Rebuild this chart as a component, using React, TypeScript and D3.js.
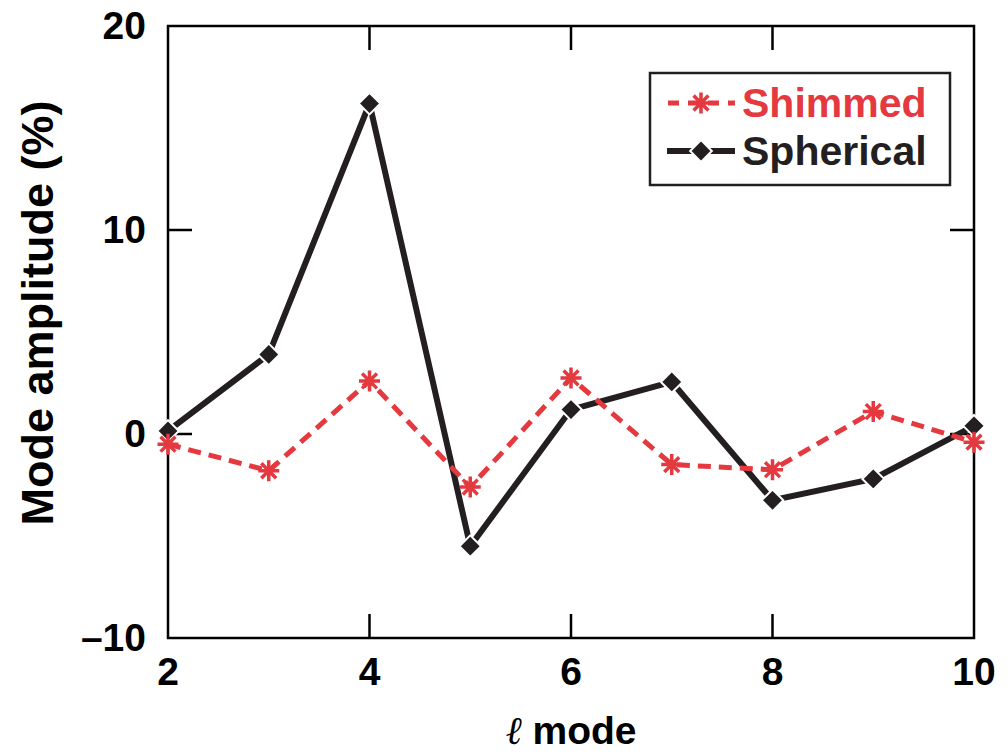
import React, { useRef, useEffect } from 'react';
import * as d3 from 'd3';

// l mode values on the x axis
const modes = [2, 3, 4, 5, 6, 7, 8, 9, 10];
// amplitudes in %
const shimmed = [-0.5, -1.8, 2.6, -2.6, 2.75, -1.5, -1.75, 1.1, -0.4];
const spherical = [0.15, 3.9, 16.2, -5.5, 1.2, 2.55, -3.25, -2.2, 0.4];
const xTicks = [2, 4, 6, 8, 10];
const yTicks = [-10, 0, 10, 20];
const seriesNames = ['Shimmed', 'Spherical'];

const RED = '#e4393f';
const BLACK = '#231f20';
const FONT = '"Liberation Sans", Arial, Helvetica, sans-serif';

function asteriskPath(r: number) {
  const d = r * Math.SQRT1_2;
  return `M0,${-r}L0,${r}M${-r},0L${r},0M${-d},${-d}L${d},${d}M${-d},${d}L${d},${-d}`;
}

function ModeChart() {
  const ref = useRef<SVGSVGElement>(null);
  const width = 1008;
  const height = 755;
  const margin = { top: 26, right: 34, bottom: 117, left: 168 };

  useEffect(() => {
    const svg = d3.select(ref.current);
    svg.selectAll('*').remove();

    const x = d3.scaleLinear().domain([2, 10]).range([margin.left, width - margin.right]);
    const y = d3.scaleLinear().domain([-10, 20]).range([height - margin.bottom, margin.top]);
    const [x0, x1] = x.range();
    const [y0, y1] = y.range();
    const tick = 24;

    // frame
    svg.append('rect')
      .attr('x', x0).attr('y', y1)
      .attr('width', x1 - x0).attr('height', y0 - y1)
      .attr('fill', 'none').attr('stroke', '#000').attr('stroke-width', 2.5);

    // inward ticks
    const inner = (v: number) => v > -10 && v < 20;
    yTicks.filter(inner).forEach((v) => {
      svg.append('line').attr('x1', x0).attr('x2', x0 + tick)
        .attr('y1', y(v)).attr('y2', y(v)).attr('stroke', '#000').attr('stroke-width', 2.5);
      svg.append('line').attr('x1', x1).attr('x2', x1 - tick)
        .attr('y1', y(v)).attr('y2', y(v)).attr('stroke', '#000').attr('stroke-width', 2.5);
    });
    xTicks.filter((v) => v > 2 && v < 10).forEach((v) => {
      svg.append('line').attr('x1', x(v)).attr('x2', x(v))
        .attr('y1', y0).attr('y2', y0 - tick).attr('stroke', '#000').attr('stroke-width', 2.5);
      svg.append('line').attr('x1', x(v)).attr('x2', x(v))
        .attr('y1', y1).attr('y2', y1 + tick).attr('stroke', '#000').attr('stroke-width', 2.5);
    });

    // tick labels
    svg.append('g').selectAll('text').data(xTicks).join('text')
      .attr('x', (d) => x(d)).attr('y', y0 + 47)
      .attr('text-anchor', 'middle')
      .attr('font-family', FONT).attr('font-weight', 'bold').attr('font-size', 39)
      .attr('fill', '#000')
      .text((d) => String(d));
    svg.append('g').selectAll('text').data(yTicks).join('text')
      .attr('x', x0 - 22).attr('y', (d) => y(d) + 13)
      .attr('text-anchor', 'end')
      .attr('font-family', FONT).attr('font-weight', 'bold').attr('font-size', 39)
      .attr('fill', '#000')
      .text((d) => (d < 0 ? '\u2013' + Math.abs(d) : String(d)));

    // axis titles
    const xt = svg.append('text')
      .attr('x', (x0 + x1) / 2).attr('y', 744)
      .attr('text-anchor', 'middle')
      .attr('font-family', FONT).attr('font-weight', 'bold').attr('font-size', 39)
      .attr('fill', '#000');
    xt.append('tspan').attr('font-family', '"DejaVu Serif", serif').attr('font-style', 'italic')
      .attr('font-weight', 'normal').text('\u2113');
    xt.append('tspan').text(' mode');

    svg.append('text')
      .attr('transform', 'translate(53,313) rotate(-90)')
      .attr('text-anchor', 'middle')
      .attr('font-family', FONT).attr('font-weight', 'bold').attr('font-size', 45)
      .attr('fill', '#000')
      .text('Mode amplitude (%)');

    const line = d3.line<number>()
      .x((_, i) => x(modes[i]))
      .y((d) => y(d));

    // Spherical line
    svg.append('path').datum(spherical).attr('d', line)
      .attr('fill', 'none').attr('stroke', BLACK).attr('stroke-width', 6)
      .attr('stroke-linejoin', 'miter');

    // Shimmed line
    svg.append('path').datum(shimmed).attr('d', line)
      .attr('fill', 'none').attr('stroke', RED).attr('stroke-width', 5)
      .attr('stroke-dasharray', '13,8');

    const diamond = d3.symbol().type(d3.symbolDiamond2).size(300)();

    svg.append('g').selectAll('path').data(spherical).join('path')
      .attr('transform', (d, i) => `translate(${x(modes[i])},${y(d)})`)
      .attr('d', diamond)
      .attr('fill', BLACK).attr('stroke', '#fff').attr('stroke-width', 2);

    svg.append('g').selectAll('path').data(shimmed).join('path')
      .attr('transform', (d, i) => `translate(${x(modes[i])},${y(d)})`)
      .attr('d', asteriskPath(10.5))
      .attr('fill', 'none').attr('stroke', RED).attr('stroke-width', 3.5);

    // legend
    const lg = svg.append('g');
    lg.append('rect').attr('x', 650).attr('y', 73).attr('width', 300).attr('height', 112)
      .attr('fill', '#fff').attr('stroke', BLACK).attr('stroke-width', 2.5);

    const rows = [103, 151];
    lg.append('line').attr('x1', 668).attr('x2', 735).attr('y1', rows[0]).attr('y2', rows[0])
      .attr('stroke', RED).attr('stroke-width', 5).attr('stroke-dasharray', '11,9');
    lg.append('path').attr('transform', `translate(701,${rows[0]})`)
      .attr('d', asteriskPath(10.5)).attr('fill', 'none').attr('stroke', RED).attr('stroke-width', 3.5);
    lg.append('line').attr('x1', 667).attr('x2', 735).attr('y1', rows[1]).attr('y2', rows[1])
      .attr('stroke', BLACK).attr('stroke-width', 6);
    lg.append('path').attr('transform', `translate(701,${rows[1]})`)
      .attr('d', diamond).attr('fill', BLACK).attr('stroke', '#fff').attr('stroke-width', 2);

    lg.selectAll('text.lbl').data(seriesNames).join('text')
      .attr('class', 'lbl')
      .attr('x', 742).attr('y', (_, i) => rows[i] + 14)
      .attr('font-family', FONT).attr('font-weight', 'bold').attr('font-size', 41)
      .attr('fill', (_, i) => (i === 0 ? RED : BLACK))
      .text((d) => d);
  }, []);

  return (
    <svg ref={ref} width={width} height={height}
      style={{ position: 'absolute', left: 0, top: 0, background: '#fff' }} />
  );
}

export default function App() {
  return <ModeChart />;
}
